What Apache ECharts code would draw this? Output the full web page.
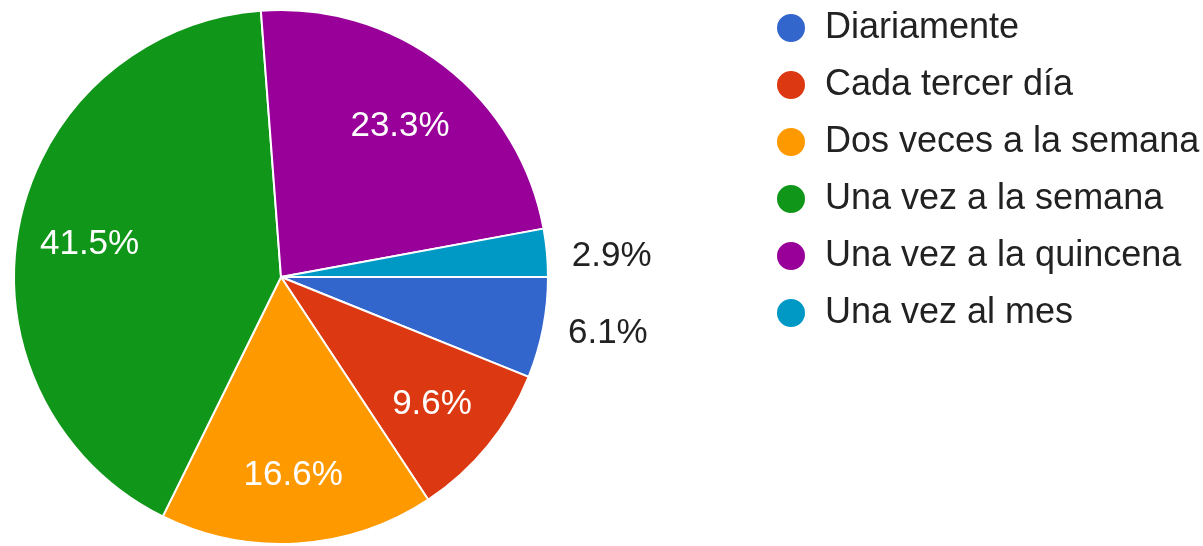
<!DOCTYPE html>
<html>
<head>
<meta charset="utf-8">
<script src="https://cdn.jsdelivr.net/npm/echarts@6/dist/echarts.min.js"></script>
<style>
html,body{margin:0;padding:0;background:#fff;}
#c{width:1203px;height:546px;}
</style>
</head>
<body>
<div id="c"></div>
<script>
var categories = ['Diariamente','Cada tercer día','Dos veces a la semana','Una vez a la semana','Una vez a la quincena','Una vez al mes'];
var values = [6.1, 9.6, 16.6, 41.5, 23.3, 2.9];
var colors = ['#3366cc','#dc3912','#ff9900','#109618','#990099','#0099c6'];
var outsideLabel = [true, false, false, false, false, true];

var font = '"Liberation Sans", Arial, sans-serif';
var chart = echarts.init(document.getElementById('c'), null, {renderer:'canvas'});

var baseData = categories.map(function(n,i){
  return {name:n, value:values[i], itemStyle:{color:colors[i]}};
});
var labelData = categories.map(function(n,i){
  var d = {name:n, value:values[i]};
  if (outsideLabel[i]) {
    d.label = {position:'outside', color:'#222222'};
  }
  return d;
});

chart.setOption({
  animation:false,
  legend:{
    orient:'vertical',
    left:770,
    top:5,
    icon:'circle',
    itemWidth:58,
    itemHeight:30,
    itemGap:21,
    textStyle:{fontFamily:font, fontSize:36, lineHeight:36, color:'#222222'},
    data:categories.map(function(n,i){return {name:n, itemStyle:{color:colors[i]}};})
  },
  series:[
    {
      type:'pie',
      center:[281,277],
      radius:[0,267],
      startAngle:0,
      clockwise:true,
      avoidLabelOverlap:false,
      itemStyle:{borderColor:'#ffffff', borderWidth:2},
      label:{show:false},
      labelLine:{show:false},
      emphasis:{disabled:true},
      data:baseData
    },
    {
      type:'pie',
      center:[281,277],
      radius:[117,267],
      startAngle:0,
      clockwise:true,
      silent:true,
      avoidLabelOverlap:false,
      itemStyle:{color:'rgba(0,0,0,0)', borderWidth:0},
      label:{
        show:true,
        position:'inside',
        offset:[0,4],
        formatter:function(p){return p.value.toFixed(1)+'%';},
        fontFamily:font,
        fontSize:35,
        color:'#ffffff'
      },
      labelLine:{show:false, length:8, length2:12},
      emphasis:{disabled:true},
      data:labelData
    }
  ]
});
</script>
</body>
</html>
